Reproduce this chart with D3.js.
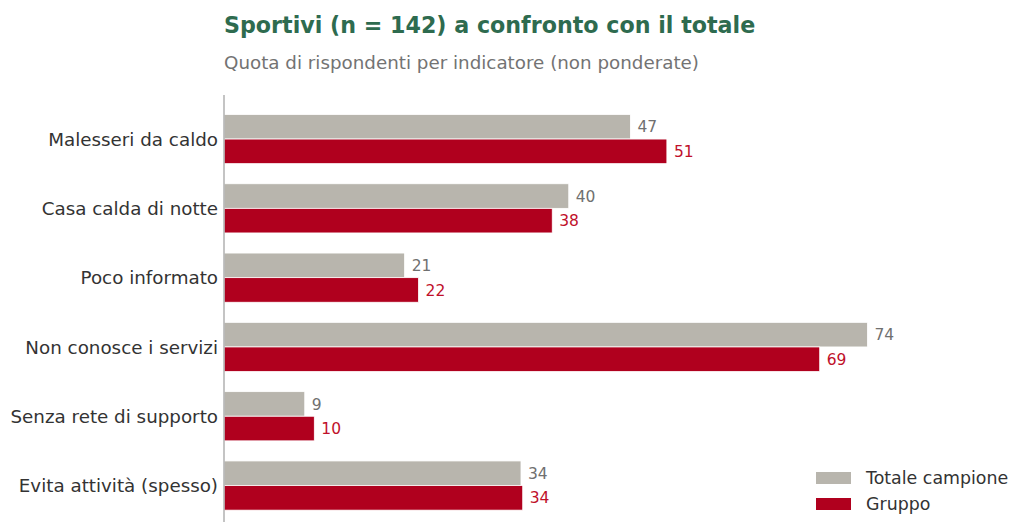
<!DOCTYPE html>
<html>
<head>
<meta charset="utf-8">
<script src="https://cdn.jsdelivr.net/npm/d3@7"></script>
<style>
  body { margin: 0; background: #fff; }
  svg { font-family: "DejaVu Sans", sans-serif; }
</style>
</head>
<body>
<svg id="chart" width="1009" height="522"></svg>
<script>
const categories = ["Malesseri da caldo", "Casa calda di notte", "Poco informato",
                    "Non conosce i servizi", "Senza rete di supporto", "Evita attività (spesso)"];
const totale = [46.8, 39.7, 20.8, 74.1, 9.3, 34.2];
const gruppo = [51.0, 37.8, 22.4, 68.6, 10.4, 34.4];
const seriesNames = ["Totale campione", "Gruppo"];

const grey = "#b8b5ad";
const red = "#b0001e";

const svg = d3.select("#chart");

// layout
const left = 224;
const x = d3.scaleLinear().domain([0, 85.1]).range([left, 963]);
const y = d3.scaleBand().domain(categories).range([104.4, 520.2]).paddingInner(0.29).paddingOuter(0.145);
const half = y.bandwidth() / 2;

svg.append("text")
    .attr("x", left).attr("y", 33)
    .style("font-size", "22.2px").style("font-weight", "bold")
    .style("fill", "#2e6b4f")
    .text("Sportivi (n = 142) a confronto con il totale");

svg.append("text")
    .attr("x", left).attr("y", 69)
    .style("font-size", "18.3px")
    .style("fill", "#737373")
    .text("Quota di rispondenti per indicatore (non ponderate)");

const rows = svg.selectAll(".row")
    .data(categories)
    .enter().append("g")
    .attr("class", "row");

rows.append("rect")
    .attr("x", x(0))
    .attr("y", d => y(d))
    .attr("width", (d, i) => x(totale[i]) - x(0))
    .attr("height", half)
    .style("fill", grey)
    .style("stroke", "#fff").style("stroke-width", 0.8);

rows.append("rect")
    .attr("x", x(0))
    .attr("y", d => y(d) + half)
    .attr("width", (d, i) => x(gruppo[i]) - x(0))
    .attr("height", half)
    .style("fill", red)
    .style("stroke", "#fff").style("stroke-width", 0.8);

rows.append("text")
    .attr("x", (d, i) => x(totale[i]) + 7)
    .attr("y", d => y(d) + half / 2)
    .attr("dy", "0.36em")
    .style("font-size", "15.5px")
    .style("fill", "#707070")
    .text((d, i) => Math.round(totale[i]));

rows.append("text")
    .attr("x", (d, i) => x(gruppo[i]) + 7)
    .attr("y", d => y(d) + half * 1.5)
    .attr("dy", "0.36em")
    .style("font-size", "15.5px")
    .style("fill", "#c0102a")
    .text((d, i) => Math.round(gruppo[i]));

// category axis
const yAxis = svg.append("g")
    .attr("transform", `translate(${left},0)`)
    .call(d3.axisLeft(y).tickSize(0).tickPadding(6));
yAxis.select(".domain").remove();
yAxis.selectAll("text")
    .attr("dy", "0.36em")
    .style("font-size", "18.3px")
    .style("font-family", "DejaVu Sans, sans-serif")
    .style("fill", "#333");

svg.append("line")
    .attr("x1", left).attr("x2", left)
    .attr("y1", 95).attr("y2", 522)
    .style("stroke", "#b0b0b0").style("stroke-width", 1.5);

// legend
const legend = svg.selectAll(".legend")
    .data(seriesNames)
    .enter().append("g")
    .attr("class", "legend")
    .attr("transform", (d, i) => `translate(816,${472 + i * 26})`);
legend.append("rect")
    .attr("width", 35).attr("height", 12)
    .style("fill", (d, i) => i ? red : grey);
legend.append("text")
    .attr("x", 50).attr("y", 6)
    .attr("dy", "0.36em")
    .style("font-size", "17.4px")
    .style("fill", "#333")
    .text(d => d);
</script>
</body>
</html>
